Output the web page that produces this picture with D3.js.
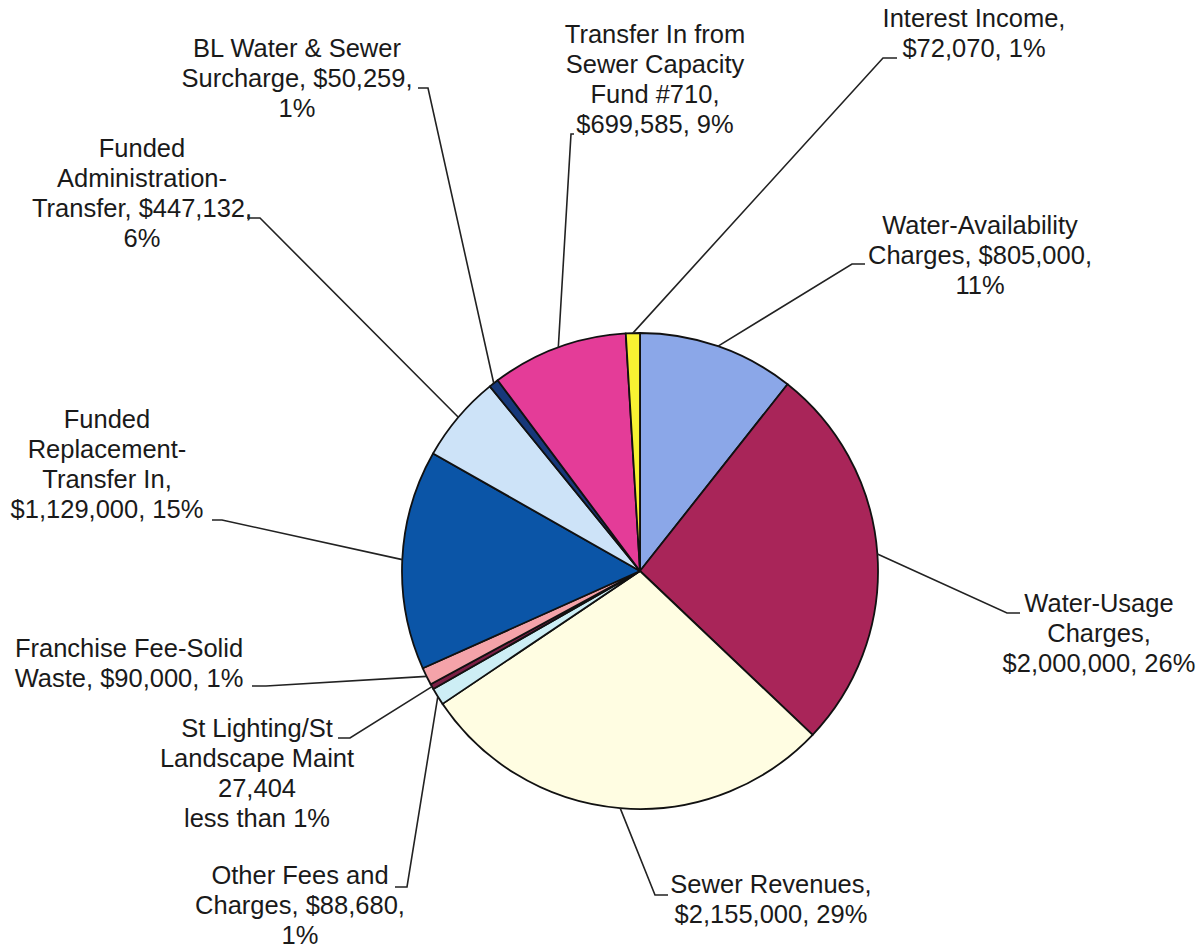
<!DOCTYPE html>
<html>
<head>
<meta charset="utf-8">
<script src="https://cdn.jsdelivr.net/npm/d3@7"></script>
<style>
  html, body { margin: 0; padding: 0; background: #fff; }
  svg { display: block; }
  .lbl { font-family: "Liberation Sans", Arial, sans-serif; font-size: 25.5px; fill: #1a1a1a; }
</style>
</head>
<body>
<svg id="chart" width="1201" height="949"></svg>
<script>
// slice order is clockwise from 12 o'clock, as in the original
const categories = [
  "Water-Availability Charges",
  "Water-Usage Charges",
  "Sewer Revenues",
  "Other Fees and Charges",
  "St Lighting/St Landscape Maint",
  "Franchise Fee-Solid Waste",
  "Funded Replacement-Transfer In",
  "Funded Administration-Transfer",
  "BL Water & Sewer Surcharge",
  "Transfer In from Sewer Capacity Fund #710",
  "Interest Income"
];
const amounts = [805000, 2000000, 2155000, 88680, 27404, 90000, 1129000, 447132, 50259, 699585, 72070];
const colors = ["#8ba7e8", "#a92559", "#fffde2", "#cdeef5", "#7a1f45", "#f4a3a9",
                "#0b55a7", "#cde3f8", "#17387a", "#e43c98", "#f8f232"];
const labelLines = [
  ["Water-Availability", "Charges, $805,000,", "11%"],
  ["Water-Usage", "Charges,", "$2,000,000, 26%"],
  ["Sewer Revenues,", "$2,155,000, 29%"],
  ["Other Fees and", "Charges, $88,680,", "1%"],
  ["St Lighting/St", "Landscape Maint", "27,404", "less than 1%"],
  ["Franchise Fee-Solid", "Waste, $90,000, 1%"],
  ["Funded", "Replacement-", "Transfer In,", "$1,129,000, 15%"],
  ["Funded", "Administration-", "Transfer, $447,132,", "6%"],
  ["BL Water & Sewer", "Surcharge, $50,259,", "1%"],
  ["Transfer In from", "Sewer Capacity", "Fund #710,", "$699,585, 9%"],
  ["Interest Income,", "$72,070, 1%"]
];

// label placement: text centre x, first baseline y, leader elbow and tail
const labelLayout = [
  { x: 980, y: 234, elbow: [852, 264], tail: [865, 264] },
  { x: 1099, y: 612, elbow: [1007, 613], tail: [1020, 613] },
  { x: 771, y: 893, elbow: [655, 895], tail: [668, 895] },
  { x: 300, y: 884, elbow: [407, 887], tail: [395, 887] },
  { x: 257, y: 737, elbow: [350, 738], tail: [338, 738] },
  { x: 129, y: 657, elbow: [266, 686], tail: [252, 686] },
  { x: 107, y: 428, elbow: [222, 520], tail: [212, 520] },
  { x: 142, y: 157, elbow: [260, 218], tail: [247, 218] },
  { x: 297, y: 57, elbow: [428, 88], tail: [418, 88] },
  { x: 655, y: 43, elbow: [571, 134], tail: [574, 134] },
  { x: 974, y: 27, elbow: [883, 58], tail: [897, 58] }
];

const cx = 640;
const cy = 571;
const radius = 238;
const lineHeight = 30;

const svg = d3.select("#chart");
const g = svg.append("g").attr("transform", `translate(${cx},${cy})`);

const pie = d3.pie().sort(null).value((d) => d);
const arc = d3.arc().innerRadius(0).outerRadius(radius);
const arcs = pie(amounts);

g.selectAll("path.slice")
  .data(arcs)
  .join("path")
  .attr("class", "slice")
  .attr("d", arc)
  .attr("fill", (d, i) => colors[i])
  .attr("stroke", "#111")
  .attr("stroke-width", 1.8)
  .attr("stroke-linejoin", "round");

// leader lines from the slice's outer mid point
function edgePoint(d) {
  const a = (d.startAngle + d.endAngle) / 2;
  return [cx + radius * Math.sin(a), cy - radius * Math.cos(a)];
}

svg.append("g")
  .selectAll("polyline")
  .data(arcs)
  .join("polyline")
  .attr("points", (d, i) => {
    const lay = labelLayout[i];
    return [edgePoint(d), lay.elbow, lay.tail].map((p) => p.join(",")).join(" ");
  })
  .attr("fill", "none")
  .attr("stroke", "#222")
  .attr("stroke-width", 1.6);

const labels = svg.append("g")
  .selectAll("text")
  .data(categories)
  .join("text")
  .attr("class", "lbl")
  .attr("text-anchor", "middle")
  .attr("x", (d, i) => labelLayout[i].x)
  .attr("y", (d, i) => labelLayout[i].y);

labels.each(function (d, i) {
  d3.select(this)
    .selectAll("tspan")
    .data(labelLines[i])
    .join("tspan")
    .attr("x", labelLayout[i].x)
    .attr("dy", (t, j) => (j === 0 ? 0 : lineHeight))
    .text((t) => t);
});
</script>
</body>
</html>
